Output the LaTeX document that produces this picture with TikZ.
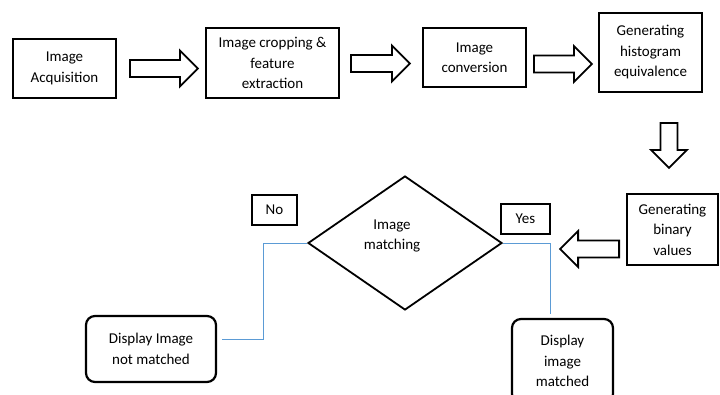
\documentclass[tikz,border=0pt]{standalone}
\usepackage{fontspec}
\setmainfont{Carlito}
\usetikzlibrary{shapes,arrows,positioning,calc}

\definecolor{linkblue}{RGB}{91,155,213}
\tikzset{
  block/.style={draw, line width=1.8pt, align=center, inner sep=2pt},
  tag/.style={draw, line width=1.3pt, inner sep=0pt},
  endbox/.style={draw, line width=2.2pt, rounded corners=9pt, align=center},
  fat/.style={draw, line width=1.8pt, line join=miter},
  link/.style={draw=linkblue, line width=1pt},
}

% hollow block arrow: start point, angle, length
\newcommand{\fatarrow}[3]{%
  \draw[fat, shift={#1}, rotate=#2]
    (0,-8.5) -- (#3-18,-8.5) -- (#3-18,-18) -- (#3,0) -- (#3-18,18)
    -- (#3-18,8.5) -- (0,8.5) -- cycle;}

\begin{document}
\begin{tikzpicture}[x=1pt, y=-1pt, font=\fontsize{15}{20.5}\selectfont]
    \useasboundingbox (0,0) rectangle (720,394);

    % processing steps
    \node[block, minimum width=103, minimum height=59] (acq) at (64.5,68.5) {Image\\Acquisition};
    \node[block, minimum width=133, minimum height=70] (crop) at (272.5,63) {Image cropping \&\\feature\\extraction};
    \node[block, minimum width=103, minimum height=59] (conv) at (474.5,57.5) {Image\\conversion};
    \node[block, minimum width=103, minimum height=79] (hist) at (650.5,52.5) {Generating\\histogram\\equivalence};
    \node[block, minimum width=91, minimum height=71] (bin) at (672.5,229.5) {Generating\\binary\\values};

    % decision
    \node[draw, diamond, line width=1.8pt, minimum width=194, minimum height=134, inner sep=0pt,
          label={[align=center, xshift=-13pt, yshift=7pt]center:Image\\matching}] (match) at (405,243) {};
    \node[tag, minimum width=45, minimum height=30] (no) at (274.5,210) {No};
    \node[tag, minimum width=49, minimum height=30] (yes) at (525.5,219) {Yes};

    % results
    \node[endbox, minimum width=130, minimum height=66] (nomatch) at (151,349) {Display Image\\not matched};
    \node[endbox, minimum width=101, minimum height=84] (ismatch) at (562.5,361) {Display\\image\\matched};

    \fatarrow{($(acq.east)+(13,0)$)}{0}{68}
    \fatarrow{($(crop.east)+(11,0.5)$)}{0}{59}
    \fatarrow{($(conv.east)+(7,6.5)$)}{0}{58}
    \fatarrow{($(hist.south)+(18.5,30)$)}{-90}{45}
    \fatarrow{($(bin.west)+(-7,19.5)$)}{180}{59}

    \draw[link] (match.west) -- ++(-44,0) |- ([xshift=5pt,yshift=10pt]nomatch.east);
    \draw[link] (match.east) -| ([xshift=-12.5pt,yshift=4pt]ismatch.north);
\end{tikzpicture}
\end{document}
